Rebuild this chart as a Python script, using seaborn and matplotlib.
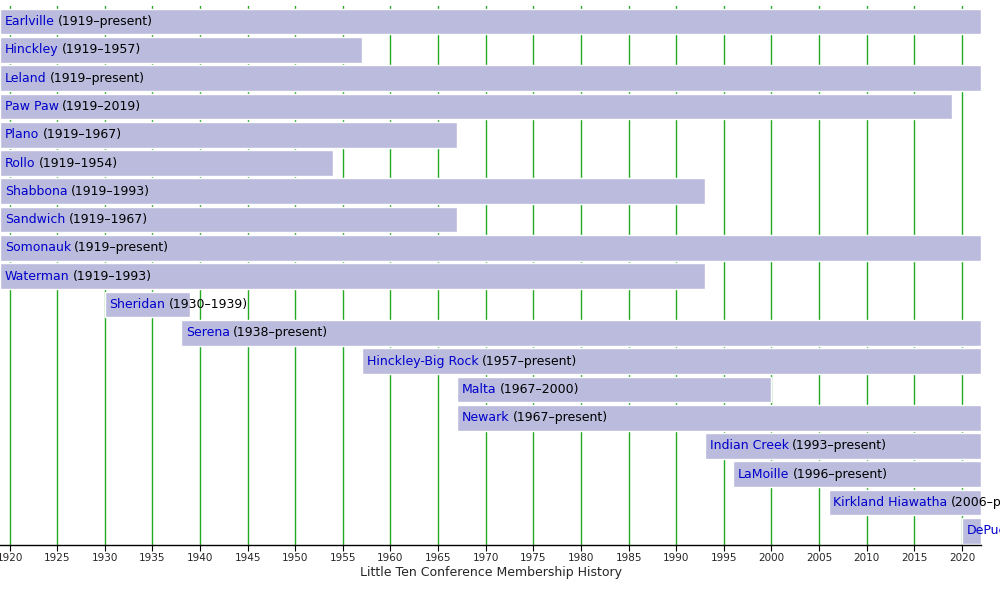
import matplotlib.pyplot as plt
import seaborn as sns

# membership periods
schools = ['Earlville', 'Hinckley', 'Leland', 'Paw Paw', 'Plano', 'Rollo', 'Shabbona',
           'Sandwich', 'Somonauk', 'Waterman', 'Sheridan', 'Serena', 'Hinckley-Big Rock',
           'Malta', 'Newark', 'Indian Creek', 'LaMoille', 'Kirkland Hiawatha', 'DePue']
joined = [1919, 1919, 1919, 1919, 1919, 1919, 1919, 1919, 1919, 1919, 1930, 1938, 1957,
          1967, 1967, 1993, 1996, 2006, 2020]
left = [None, 1957, None, 2019, 1967, 1954, 1993, 1967, None, 1993, 1939, None, None,
        2000, None, None, None, None, None]
chart_end = 2022
years = list(range(1920, 2021, 5))

sns.set_style("white")
bar_color = '#bbbbdd'
grid_color = '#22aa22'

fig = plt.figure(figsize=(10, 5.95), dpi=100)
ax = fig.add_axes([0.0, 0.084, 0.981, 0.906])

for yr in years:
    ax.axvline(yr, color=grid_color, lw=1, zorder=0)

for i, (name, start, end) in enumerate(zip(schools, joined, left)):
    stop = end if end is not None else chart_end
    ax.barh(i, stop - start, left=start, height=0.91, color=bar_color, zorder=2)
    span = '(%d\u2013%s)' % (start, end if end is not None else 'present')
    t = ax.text(start + 0.5, i, name, color='#0000cc', fontsize=9, va='center',
                ha='left', zorder=3, clip_on=False)
    ax.annotate(span, xy=(1, 0.5), xycoords=t, xytext=(2.5, 0), textcoords='offset points',
                color='black', fontsize=9, va='center', ha='left', zorder=3,
                annotation_clip=False)

ax.set_xlim(1919, chart_end)
ax.set_ylim(len(schools) - 0.5, -0.55)
ax.set_yticks([])
ax.set_xticks(years)
ax.set_xticklabels([str(y) for y in years], fontsize=7.5)
ax.tick_params(axis='x', length=4, width=0.8, color='black', pad=2, bottom=True)
for side in ('top', 'right', 'left'):
    ax.spines[side].set_visible(False)
ax.spines['bottom'].set_color('black')
ax.spines['bottom'].set_linewidth(1)
ax.set_xlabel('Little Ten Conference Membership History', fontsize=9, labelpad=2)

fig.savefig('out.png', dpi=100)
